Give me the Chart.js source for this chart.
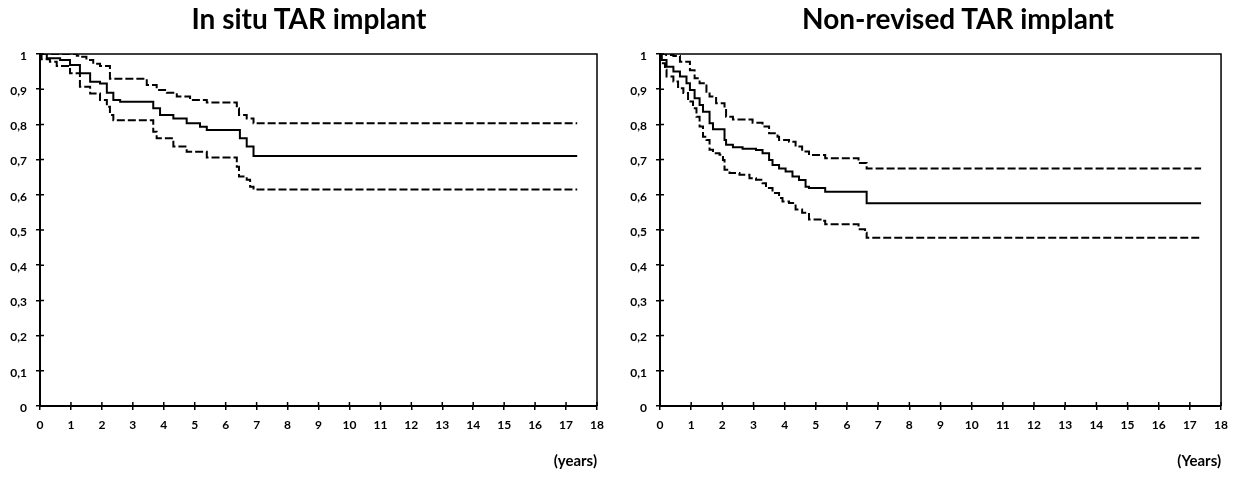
<!DOCTYPE html>
<html><head><meta charset="utf-8">
<script src="https://cdn.jsdelivr.net/npm/chart.js@4.4.1/dist/chart.umd.min.js"></script>
<style>
html,body{margin:0;padding:0;background:#fff;width:1236px;height:477px;overflow:hidden}
.wrap{position:absolute;top:0;height:477px}
.ttl{position:absolute;top:4px;width:600px;margin-left:-300px;text-align:center;font-family:Lato,'Open Sans',sans-serif;font-weight:bold;font-size:28px;line-height:28px;color:#000;white-space:nowrap}
</style></head><body>
<div class="wrap" style="left:0;width:615px"><canvas id="c1"></canvas></div>
<div class="wrap" style="left:615px;width:621px"><canvas id="c2"></canvas></div>
<div class="ttl" id="t1" style="left:309px"></div>
<div class="ttl" id="t2" style="left:958px"></div>
<script>
// ---- data ----
const titles = ["In situ TAR implant", "Non-revised TAR implant"];
const xAxisLabels = ["(years)", "(Years)"];
const xTicks = [0,1,2,3,4,5,6,7,8,9,10,11,12,13,14,15,16,17,18];
const yTicks = [0,0.1,0.2,0.3,0.4,0.5,0.6,0.7,0.8,0.9,1];

// In situ TAR implant
const insituEstT = [0,0.22,0.65,0.97,1.29,1.62,1.94,2.16,2.37,2.59,3.66,3.88,4.31,4.74,5.17,5.39,6.46,6.68,6.9,17.36];
const insituEstS = [1,0.988,0.983,0.969,0.945,0.921,0.916,0.89,0.869,0.864,0.846,0.827,0.817,0.803,0.793,0.784,0.761,0.737,0.71,0.71];
const insituUpT = [0,1.19,1.29,1.5,1.72,1.94,2.26,3.45,3.77,4.1,4.42,4.85,5.39,6.36,6.43,6.68,6.9,17.36];
const insituUpS = [1,0.995,0.992,0.983,0.972,0.966,0.93,0.912,0.898,0.89,0.879,0.869,0.862,0.846,0.827,0.817,0.803,0.803];
const insituLoT = [0,0.05,0.32,0.54,0.97,1.29,1.62,1.94,2.16,2.26,2.37,3.66,3.77,4.31,4.74,5.39,6.36,6.43,6.68,6.79,6.9,17.36];
const insituLoS = [1,0.985,0.978,0.966,0.945,0.907,0.888,0.869,0.85,0.827,0.812,0.779,0.761,0.737,0.722,0.706,0.68,0.652,0.643,0.623,0.615,0.615];

// Non-revised TAR implant
const nonrevEstT = [0,0.05,0.21,0.43,0.64,0.85,0.96,1.11,1.27,1.38,1.59,1.7,2.07,2.12,2.34,2.65,3.08,3.29,3.5,3.61,3.82,4.03,4.25,4.46,4.67,4.78,5.3,6.63,17.36];
const nonrevEstS = [1,0.983,0.964,0.95,0.936,0.917,0.898,0.874,0.855,0.836,0.803,0.786,0.756,0.742,0.735,0.731,0.727,0.718,0.699,0.685,0.675,0.666,0.652,0.642,0.623,0.619,0.609,0.576,0.576];
const nonrevUpT = [0,0.2,0.43,0.64,0.96,1.11,1.27,1.49,1.59,1.8,2.07,2.12,2.34,2.97,3.29,3.5,3.77,3.82,4.14,4.35,4.56,4.78,5.3,6.37,6.63,17.36];
const nonrevUpS = [1,0.997,0.994,0.978,0.954,0.931,0.917,0.893,0.879,0.86,0.851,0.822,0.814,0.805,0.794,0.775,0.765,0.756,0.751,0.737,0.723,0.713,0.704,0.69,0.675,0.675];
const nonrevLoT = [0,0.05,0.16,0.21,0.43,0.58,0.75,0.9,1.06,1.17,1.27,1.38,1.49,1.59,1.7,1.91,2.02,2.07,2.23,2.55,2.87,3.08,3.29,3.4,3.61,3.82,3.93,4.14,4.35,4.56,4.78,5.2,5.3,6.37,6.58,6.63,17.36];
const nonrevLoS = [1,0.974,0.955,0.936,0.922,0.903,0.889,0.865,0.846,0.822,0.794,0.765,0.756,0.728,0.718,0.714,0.699,0.671,0.662,0.657,0.647,0.643,0.633,0.619,0.605,0.591,0.581,0.577,0.558,0.549,0.53,0.526,0.516,0.502,0.492,0.478,0.478];

// ---- build ----
document.getElementById('t1').textContent = titles[0];
document.getElementById('t2').textContent = titles[1];
const FONT = "Lato, 'Open Sans', sans-serif";
function pts(T, S){ return T.map((t,i)=>({x:t, y:S[i]})); }
function ds(label, T, S, dashed){
  return {label, data: pts(T,S), showLine:true, stepped:true, borderColor:'#000',
    borderWidth:2, pointRadius:0, borderDash: dashed ? [8,3] : [], fill:false};
}
const frame = {
  id:'frame',
  afterDraw(chart){
    const {ctx, chartArea:a, scales:{x,y}} = chart;
    ctx.save();
    ctx.strokeStyle='#000'; ctx.lineWidth=1.5;
    ctx.beginPath();
    ctx.moveTo(a.left, a.top); ctx.lineTo(a.right, a.top); ctx.lineTo(a.right, a.bottom);
    ctx.stroke();
    ctx.beginPath();
    x.ticks.forEach((t,i)=>{ const p=x.getPixelForTick(i); ctx.moveTo(p,a.bottom); ctx.lineTo(p,a.bottom-4); });
    y.ticks.forEach((t,i)=>{ const p=y.getPixelForTick(i); ctx.moveTo(a.left,p); ctx.lineTo(a.left+4,p); });
    ctx.stroke();
    ctx.restore();
  }
};
function make(id, idx, sets, yW, padR){
  new Chart(document.getElementById(id), {
    type:'scatter',
    data:{datasets:sets},
    options:{
      responsive:true, maintainAspectRatio:false, animation:false,
      layout:{padding:{left:0, right:padR, top:54, bottom:5}},
      plugins:{ legend:{display:false}, tooltip:{enabled:false}, title:{display:false} },
      scales:{
        x:{type:'linear', min:0, max:18,
          afterBuildTicks(s){ s.ticks = xTicks.map(v=>({value:v})); },
          afterFit(s){ s.height = 66; },
          border:{color:'#000', width:2},
          grid:{display:true, drawOnChartArea:false, color:'#000', lineWidth:1.5, tickLength:4},
          ticks:{color:'#000', font:{family:FONT, size:12, weight:'bold'}, padding:8, maxRotation:0,
            callback:(v)=>String(v)},
          title:{display:true, text:xAxisLabels[idx], align:'end', color:'#000',
            font:{family:FONT, size:15, weight:'bold'}, padding:{top:0,bottom:2}}
        },
        y:{type:'linear', min:0, max:1,
          afterBuildTicks(s){ s.ticks = yTicks.map(v=>({value:v})); },
          afterFit(s){ s.width = yW; },
          border:{color:'#000', width:2},
          grid:{display:true, drawOnChartArea:false, color:'#000', lineWidth:1.5, tickLength:4},
          ticks:{color:'#000', font:{family:FONT, size:12, weight:'bold'}, padding:9, labelOffset:2,
            callback:(v)=> v===1 ? '1' : (v===0 ? '0' : v.toFixed(1).replace('.', ',')) }
        }
      }
    },
    plugins:[frame]
  });
}
make('c1', 0, [ds('Upper', insituUpT, insituUpS, true), ds('Estimate', insituEstT, insituEstS, false), ds('Lower', insituLoT, insituLoS, true)], 40, 18);
make('c2', 1, [ds('Upper', nonrevUpT, nonrevUpS, true), ds('Estimate', nonrevEstT, nonrevEstS, false), ds('Lower', nonrevLoT, nonrevLoS, true)], 45, 12);
</script>
</body></html>
